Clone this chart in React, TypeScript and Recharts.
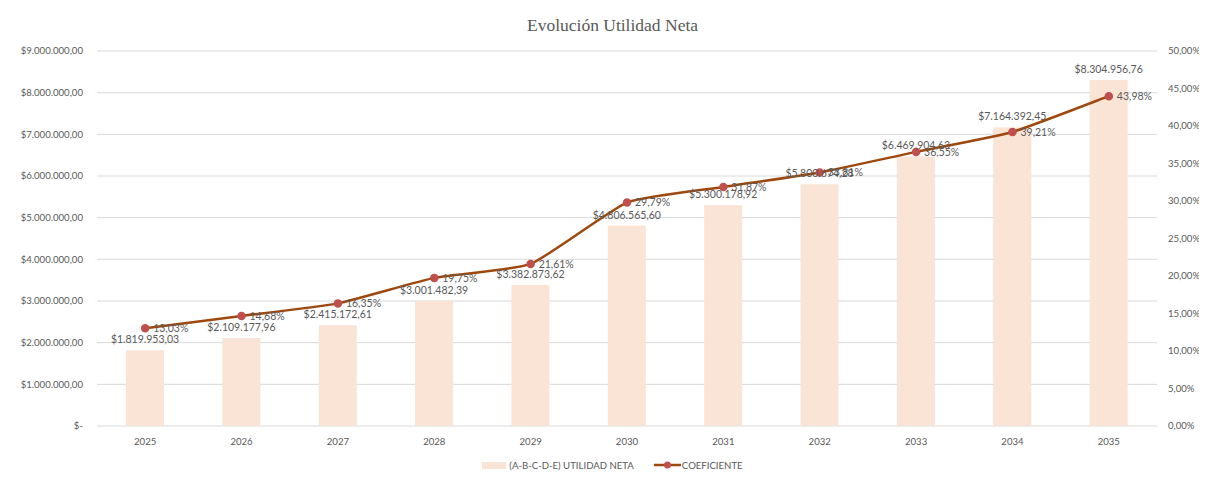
import {
  ComposedChart,
  Bar,
  Line,
  XAxis,
  YAxis,
  CartesianGrid,
  Legend,
  LabelList,
} from "recharts";

const years = ["2025", "2026", "2027", "2028", "2029", "2030", "2031", "2032", "2033", "2034", "2035"];
const utilidadNeta = [
  1819953.03, 2109177.96, 2415172.61, 3001482.39, 3382873.62, 4806565.6, 5300178.92, 5800674.28,
  6469904.63, 7164392.45, 8304956.76,
];
const coeficiente = [0.1303, 0.1468, 0.1635, 0.1975, 0.2161, 0.2979, 0.3187, 0.3381, 0.3655, 0.3921, 0.4398];
const leftTicks = [0, 1000000, 2000000, 3000000, 4000000, 5000000, 6000000, 7000000, 8000000, 9000000];
const rightTicks = [0, 0.05, 0.1, 0.15, 0.2, 0.25, 0.3, 0.35, 0.4, 0.45, 0.5];

const COLORS = {
  bar: "#F9E4D5",
  line: "#9E480E",
  dot: "#C0504D",
  text: "#595959",
  grid: "#D9D9D9",
};

const FONT = "Lato, 'Liberation Sans', sans-serif";

const data = years.map((year, i) => ({
  year,
  utilidad: utilidadNeta[i],
  coef: coeficiente[i],
}));

// es-style number: 1.234.567,89
function fmtNumber(v: number, decimals = 2) {
  const [int, dec] = Math.abs(v).toFixed(decimals).split(".");
  const withDots = int.replace(/\B(?=(\d{3})+(?!\d))/g, ".");
  return (v < 0 ? "-" : "") + withDots + (dec ? "," + dec : "");
}

const fmtMoney = (v: number) => (v === 0 ? "$-" : "$" + fmtNumber(v));
const fmtPct = (v: number) => fmtNumber(v * 100) + "%";

// gently smoothed line, like the spreadsheet one
const TENSION = 1 / 12;
const smoothCurve = (context: any) => {
  let pts: [number, number][] = [];
  return {
    areaStart() {},
    areaEnd() {},
    lineStart() {
      pts = [];
    },
    point(x: number, y: number) {
      pts.push([+x, +y]);
    },
    lineEnd() {
      if (!pts.length) return;
      context.moveTo(pts[0][0], pts[0][1]);
      for (let i = 0; i < pts.length - 1; i++) {
        const p0 = pts[i - 1] || pts[i];
        const p1 = pts[i];
        const p2 = pts[i + 1];
        const p3 = pts[i + 2] || p2;
        context.bezierCurveTo(
          p1[0] + (p2[0] - p0[0]) * TENSION,
          p1[1] + (p2[1] - p0[1]) * TENSION,
          p2[0] - (p3[0] - p1[0]) * TENSION,
          p2[1] - (p3[1] - p1[1]) * TENSION,
          p2[0],
          p2[1]
        );
      }
    },
  };
};

const tickStyle = { fill: COLORS.text, fontSize: 9.6, fontFamily: FONT };

function ChartLegend() {
  return (
    <div
      style={{
        display: "flex",
        justifyContent: "center",
        alignItems: "center",
        height: 30,
        fontFamily: FONT,
        fontSize: 9.6,
        color: COLORS.text,
      }}
    >
      <span style={{ display: "inline-block", width: 24, height: 7, background: COLORS.bar, marginRight: 3 }} />
      <span style={{ marginRight: 20 }}>(A-B-C-D-E) UTILIDAD NETA</span>
      <svg width={27} height={10} style={{ marginRight: 1 }}>
        <line x1={0} y1={5} x2={27} y2={5} stroke={COLORS.line} strokeWidth={2.5} />
        <circle cx={13.5} cy={5} r={3.5} fill={COLORS.dot} />
      </svg>
      <span>COEFICIENTE</span>
    </div>
  );
}

export default function App() {
  return (
    <div
      style={{
        position: "relative",
        width: 1200,
        height: 478,
        marginLeft: -1,
        marginTop: -2,
        borderTop: "1px solid #D9D9D9",
        borderLeft: "1px solid #D9D9D9",
        boxSizing: "border-box",
        background: "#fff",
        overflow: "hidden",
      }}
    >
      <div
        style={{
          position: "absolute",
          top: 8,
          left: 0,
          width: 1209,
          textAlign: "center",
          fontFamily: "'Liberation Serif', 'DejaVu Serif', serif",
          fontSize: 17.5,
          color: COLORS.text,
        }}
      >
        Evolución Utilidad Neta
      </div>
      <ComposedChart
        width={1209}
        height={473}
        data={data}
        margin={{ top: 44, right: 0, left: 0, bottom: 0 }}
      >
        <CartesianGrid vertical={false} stroke={COLORS.grid} yAxisId="left" />
        <XAxis
          dataKey="year"
          tick={tickStyle}
          tickLine={false}
          axisLine={false}
          height={24}
          tickMargin={6}
        />
        <YAxis
          yAxisId="left"
          domain={[0, 9000000]}
          ticks={leftTicks}
          tickFormatter={fmtMoney}
          tick={tickStyle}
          tickLine={false}
          axisLine={false}
          width={89}
          tickMargin={8}
        />
        <YAxis
          yAxisId="right"
          orientation="right"
          domain={[0, 0.5]}
          ticks={rightTicks}
          tickFormatter={fmtPct}
          tick={{ ...tickStyle, textAnchor: "start" }}
          tickLine={false}
          axisLine={false}
          width={60}
          tickMargin={5}
        />
        <Legend verticalAlign="bottom" height={30} content={() => <ChartLegend />} />
        <Bar
          yAxisId="left"
          dataKey="utilidad"
          name="(A-B-C-D-E) UTILIDAD NETA"
          fill={COLORS.bar}
          barSize={38}
          isAnimationActive={false}
        >
          <LabelList
            dataKey="utilidad"
            position="top"
            offset={7}
            formatter={(v: number) => "$" + fmtNumber(v)}
            style={{ fill: COLORS.text, fontSize: 10.5, fontFamily: FONT }}
          />
        </Bar>
        <Line
          yAxisId="right"
          type={smoothCurve as any}
          dataKey="coef"
          name="COEFICIENTE"
          stroke={COLORS.line}
          strokeWidth={2.5}
          dot={{ fill: COLORS.dot, stroke: COLORS.dot, r: 3 }}
          activeDot={false}
          isAnimationActive={false}
        >
          <LabelList
            dataKey="coef"
            position="right"
            offset={8}
            formatter={(v: number) => fmtPct(v)}
            style={{ fill: COLORS.text, fontSize: 10.5, fontFamily: FONT }}
          />
        </Line>
      </ComposedChart>
    </div>
  );
}
